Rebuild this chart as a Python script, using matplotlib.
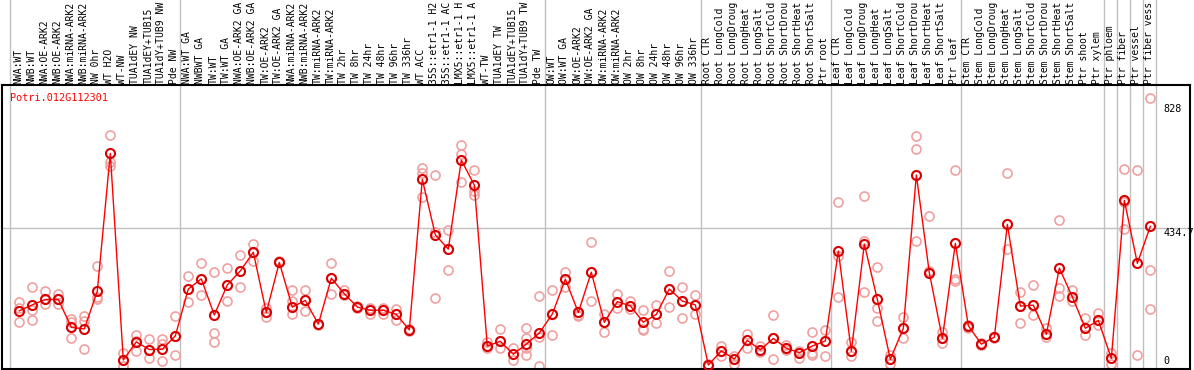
import matplotlib
matplotlib.use("Agg")
import matplotlib.pyplot as plt
from matplotlib.transforms import blended_transform_factory

# sample names along the top (as far as the header shows them)
labels = [
    "NWA:WT", "NWB:WT", "NWA:OE-ARK2", "NWB:OE-ARK2", "NWA:miRNA-ARK2", "NWB:miRNA-ARK2",
    "NW 0hr", "WT H2O", "WT-NW", "TUA1dEY NW", "TUA1dEY+TUB15", "TUA1dY+TUB9 NW", "Pde NW",
    "NWA:WT GA", "NWBWT GA", "TW:WT", "TW:WT GA", "NWA:OE-ARK2 GA", "NWB:OE-ARK2 GA",
    "TW:OE-ARK2", "TW:OE-ARK2 GA", "NWA:miRNA-ARK2", "NWB:miRNA-ARK2", "TW:miRNA-ARK2",
    "TW:miRNA-ARK2", "TW 2hr", "TW 8hr", "TW 24hr", "TW 48hr", "TW 96hr", "TW 336hr",
    "WT ACC", "35S::etr1-1 H2", "35S::etr1-1 AC", "LMX5::etr1-1 H", "LMX5::etr1-1 A",
    "WT-TW", "TUA1dEY TW", "TUA1dEY+TUB15", "TUA1dY+TUB9 TW", "Pde TW",
    "OW:WT", "OW:WT GA", "OW:OE-ARK2", "OW:OE-ARK2 GA", "OW:miRNA-ARK2", "OW:miRNA-ARK2",
    "OW 2hr", "OW 8hr", "OW 24hr", "OW 48hr", "OW 96hr", "OW 336hr",
    "Root CTR", "Root LongCold", "Root LongDroug", "Root LongHeat", "Root LongSalt",
    "Root ShortCold", "Root ShortDrou", "Root ShortHeat", "Root ShortSalt", "Ptr root",
    "Leaf CTR", "Leaf LongCold", "Leaf LongDroug", "Leaf LongHeat", "Leaf LongSalt",
    "Leaf ShortCold", "Leaf ShortDrou", "Leaf ShortHeat", "Leaf ShortSalt", "Ptr leaf",
    "Stem CTR", "Stem LongCold", "Stem LongDroug", "Stem LongHeat", "Stem LongSalt",
    "Stem ShortCold", "Stem ShortDrou", "Stem ShortHeat", "Stem ShortSalt", "Ptr shoot",
    "Ptr xylem", "Ptr phloem", "Ptr fiber", "Ptr vessel", "Ptr fiber vess",
]

# mean expression per sample
means = [
    174, 193, 210, 210, 122, 117, 236, 671, 19, 76, 52, 53, 95,
    243, 275, 161, 256, 300, 359, 169, 327, 186, 207, 132, 277, 228, 186, 176, 176,
    163, 114, 589, 414, 369, 650, 571, 63, 78, 37, 69, 104,
    164, 274, 169, 296, 138, 203, 190, 138, 163, 243, 205, 193,
    3, 48, 22, 81, 51, 87, 56, 42, 63, 79,
    363, 47, 385, 210, 21, 119, 603, 294, 87, 387,
    127, 69, 91, 447, 189, 192, 100, 309, 218, 119, 144,
    24, 523, 324, 441,
]

# individual replicates per sample
reps = [
    [201, 184, 138], [249, 176, 144], [236, 196, 210], [227, 196, 210], [147, 138, 87],
    [157, 141, 53], [315, 217, 212], [728, 643, 632], [40, 0, 18], [98, 48, 80],
    [84, 24, 50], [84, 68, 16], [158, 35, 95],
    [284, 201, 243], [324, 224, 275], [296, 103, 77], [308, 205, 256], [349, 248, 300],
    [385, 332, 359], [182, 156, 169], [333, 329, 327], [239, 206, 165], [240, 174, 207],
    [132, 130, 134], [324, 228, 277], [240, 224, 228], [186, 184, 188], [184, 165, 176],
    [184, 165, 176], [180, 145, 163], [114, 112, 116], [626, 608, 532], [603, 424, 214],
    [428, 302, 369], [698, 668, 582], [618, 553, 540], [77, 56, 63], [116, 56, 78],
    [56, 18, 37], [119, 87, 56, 35], [220, 92, 0],
    [239, 98, 164], [296, 250, 274], [161, 158, 169], [390, 204, 296], [163, 108, 138],
    [227, 182, 203], [205, 179, 190], [176, 118, 114], [193, 136, 163], [300, 185, 243],
    [249, 150, 205], [224, 163, 193],
    [0, 3, 5], [62, 31, 48], [33, 5, 22], [102, 56, 81], [64, 45, 51], [161, 21, 87],
    [66, 56, 50], [48, 26, 42], [107, 42, 35], [113, 33, 79],
    [517, 218, 348], [75, 30, 47], [537, 393, 233], [313, 182, 141], [35, 7, 21],
    [155, 88, 119], [726, 684, 395], [474, 300, 294], [107, 74, 87], [619, 274, 268],
    [121, 127, 130], [69, 67, 71], [91, 89, 93], [608, 368, 447], [233, 137, 189],
    [256, 161, 192], [119, 91, 100], [461, 247, 221], [240, 205, 218], [153, 98, 119],
    [168, 129, 144],
    [40, 5, 24], [622, 517, 431], [618, 35], [845, 303, 180],
]

gene = "Potri.012G112301"
ytick_vals = [0, 434.7, 828]
ytick_text = ["0", "434.7", "828"]
group_edges = [-0.7, 12.4, 40.4, 52.4, 62.4, 72.4, 83.4, 84.4, 85.4, 86.4, 87.4]

W, H = 1194, 370
mono = "DejaVu Sans Mono"
grid_c = "#c0c0c0"

fig = plt.figure(figsize=(W / 100, H / 100), dpi=100)
ax = fig.add_axes([2 / W, 1 - 369 / H, 1188 / W, 284 / H])
ax.set_xlim(-1.33, 90.05)
ax.set_ylim(-9.5, 887)
ax.set_xticks([])
ax.set_yticks([])
for s in ax.spines.values():
    s.set_linewidth(1.5)
    s.set_color("black")

xs = list(range(len(means)))
hdr = blended_transform_factory(ax.transData, fig.transFigure)

# group separators run through the header too
for e in group_edges:
    ax.plot([e, e], [0, 1], transform=hdr, color=grid_c, lw=1, clip_on=False, zorder=1)
ax.axhline(434.7, color=grid_c, lw=1, zorder=1)

# replicates
for x, r in zip(xs, reps):
    ax.plot([x] * len(r), r, "o", ms=6.5, mfc="none", mec="#f0a0a0", mew=1.2, zorder=2)

# mean line
ax.plot(xs, means, "-", color="red", lw=1.0, zorder=3)
ax.plot(xs, means, "o", ms=6.5, mfc="none", mec="#d80000", mew=1.5, zorder=4)

# sample labels
for x, lab in zip(xs, labels):
    ax.text(x - 0.08, 1 - 84 / H, lab, transform=hdr, rotation=90, ha="center", va="bottom",
            fontsize=7.0, family=mono, clip_on=False)

# value labels on the right
for v, t in zip(ytick_vals, ytick_text):
    ax.text(88.0, v, t, ha="left", va="bottom" if v == 0 else "top", fontsize=7.3, family=mono)

ax.text(-0.75, 861, gene, color="red", ha="left", va="top", fontsize=7.3, family=mono)

fig.savefig("out.png", dpi=100)
